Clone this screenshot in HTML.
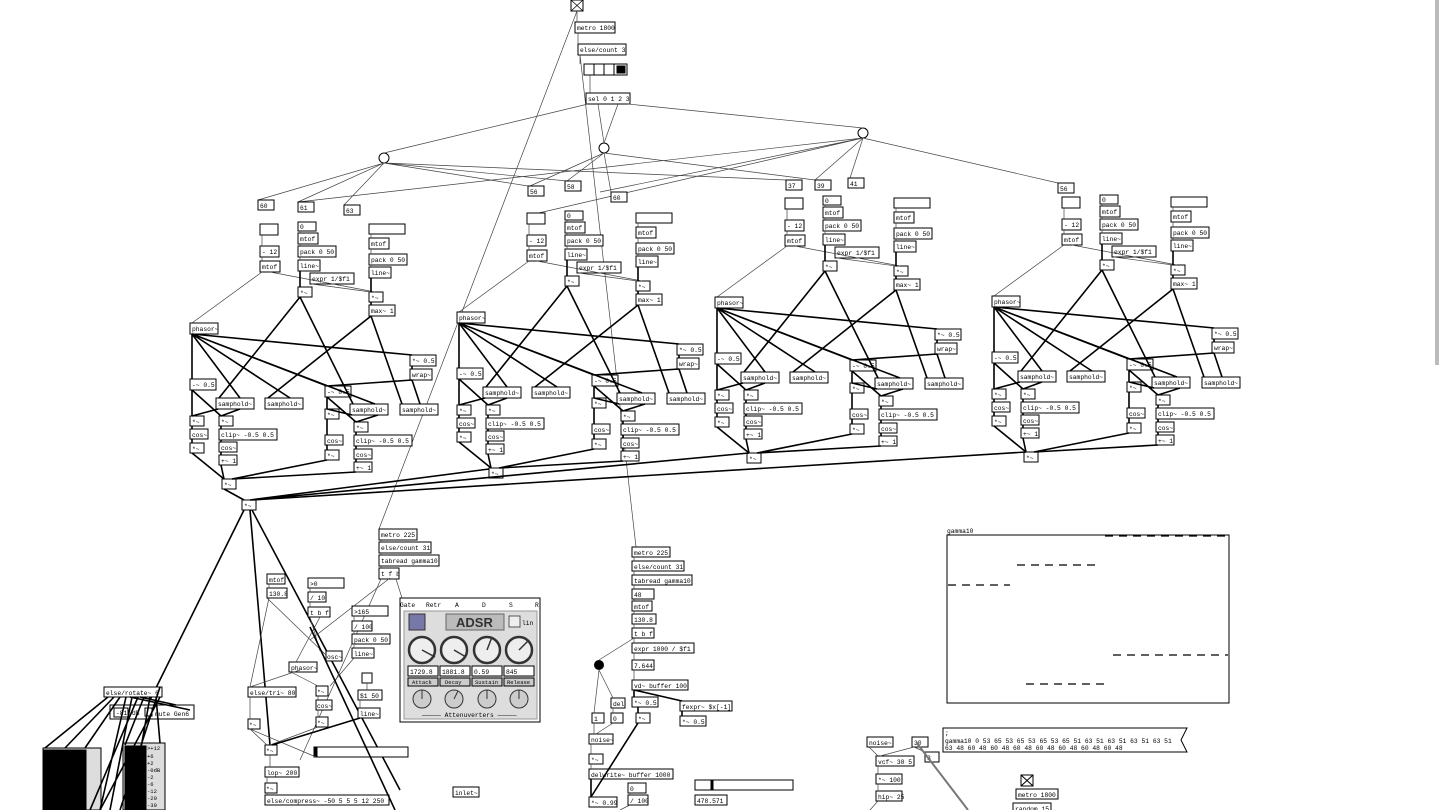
<!DOCTYPE html>
<html><head><meta charset="utf-8">
<style>
html,body{margin:0;padding:0;background:#fff;width:1440px;height:810px;overflow:hidden}
svg{display:block}
rect{fill:#fff;stroke:#000;stroke-width:1}
text{font-family:"Liberation Mono",monospace;font-size:6.3px;fill:#000}
.t{stroke:#444;stroke-width:0.7;fill:none}
.k{stroke:#000;stroke-width:1.6;fill:none}
.s{font-family:"Liberation Sans",sans-serif}
</style></head><body>
<svg width="1440" height="810" viewBox="0 0 1440 810" xmlns="http://www.w3.org/2000/svg">
<defs>
<g id="v">
<rect x="260" y="224" width="18" height="11"/>
<rect x="260" y="246" width="19" height="11"/><text x="262" y="254">- 12</text>
<rect x="260" y="261" width="20" height="11"/><text x="262" y="269">mtof</text>
<rect x="298" y="222" width="18" height="9"/><text x="300" y="229">0</text>
<rect x="298" y="233" width="20" height="11"/><text x="300" y="241">mtof</text>
<rect x="298" y="246" width="38" height="11"/><text x="300" y="254">pack 0 50</text>
<rect x="298" y="260" width="22" height="11"/><text x="300" y="268">line~</text>
<rect x="369" y="224" width="36" height="10"/>
<rect x="369" y="238" width="20" height="11"/><text x="371" y="246">mtof</text>
<rect x="369" y="254" width="38" height="11"/><text x="371" y="262">pack 0 50</text>
<rect x="369" y="267" width="22" height="11"/><text x="371" y="275">line~</text>
<rect x="310" y="273" width="44" height="11"/><text x="312" y="281">expr 1/$f1</text>
<rect x="298" y="287" width="14" height="10"/><text x="300" y="295">*~</text>
<rect x="369" y="292" width="14" height="10"/><text x="371" y="300">*~</text>
<rect x="369" y="305" width="26" height="11"/><text x="371" y="313">max~ 1</text>
<path class="t" d="M262 235V246M262 257V261M262 272L192 323M270 272L375 292M300 231V233M300 244V246M300 257V260M371 234V238M371 249V254M371 265V267M312 284L371 292"/>
<path class="k" d="M300 271V287M371 278V292M371 302V305"/>
<rect x="190" y="323" width="28" height="11"/><text x="192" y="331">phasor~</text>
<rect x="410" y="355" width="26" height="11"/><text x="412" y="363">*~ 0.5</text>
<rect x="410" y="369" width="22" height="11"/><text x="412" y="377">wrap~</text>
<rect x="190" y="379" width="26" height="11"/><text x="192" y="387">-~ 0.5</text>
<rect x="325" y="386" width="26" height="11"/><text x="327" y="394">-~ 0.5</text>
<rect x="216" y="398" width="38" height="11"/><text x="218" y="406">samphold~</text>
<rect x="265" y="398" width="38" height="11"/><text x="267" y="406">samphold~</text>
<rect x="350" y="404" width="38" height="11"/><text x="352" y="412">samphold~</text>
<rect x="400" y="404" width="38" height="11"/><text x="402" y="412">samphold~</text>
<rect x="190" y="416" width="14" height="10"/><text x="192" y="424">*~</text>
<rect x="219" y="416" width="14" height="10"/><text x="221" y="424">*~</text>
<rect x="190" y="429" width="18" height="10"/><text x="192" y="437">cos~</text>
<rect x="219" y="429" width="58" height="11"/><text x="221" y="437">clip~ -0.5 0.5</text>
<rect x="219" y="442" width="18" height="10"/><text x="221" y="450">cos~</text>
<rect x="190" y="443" width="14" height="10"/><text x="192" y="451">*~</text>
<rect x="219" y="455" width="18" height="10"/><text x="221" y="463">+~ 1</text>
<rect x="325" y="409" width="14" height="10"/><text x="327" y="417">*~</text>
<rect x="354" y="422" width="14" height="10"/><text x="356" y="430">*~</text>
<rect x="325" y="435" width="18" height="10"/><text x="327" y="443">cos~</text>
<rect x="354" y="435" width="58" height="11"/><text x="356" y="443">clip~ -0.5 0.5</text>
<rect x="354" y="449" width="18" height="10"/><text x="356" y="457">cos~</text>
<rect x="325" y="450" width="14" height="10"/><text x="327" y="458">*~</text>
<rect x="354" y="462" width="18" height="10"/><text x="356" y="470">+~ 1</text>
<rect x="222" y="479" width="14" height="10"/><text x="224" y="487">*~</text>
<path class="k" d="M300 297L219 398M300 297L353 404M371 316L268 398M371 316L402 404M192 334L412 355M192 334V379M192 334L240 398M192 334L290 398M192 334L327 386M192 334L375 404M412 366V369M412 380L327 386M412 380L420 404M192 390V416M192 390L221 416M218 409L192 416M240 409L221 416M192 426V429M192 439V443M221 426V429M221 440V442M221 452V455M327 397V409M327 397L356 422M352 415L327 409M378 415L356 422M327 419V435M327 445V450M356 432V435M356 446V449M356 459V462M192 453L224 479M221 465L224 479M327 460L232 479M356 472L232 479"/>
</g>
</defs>

<rect x="1435" y="0" width="4" height="365" style="fill:#bbb;stroke:none"/>

<rect x="571" y="0" width="12" height="11"/><path class="t" d="M571 0L583 11M583 0L571 11" style="stroke:#000"/>
<rect x="575" y="22" width="40" height="11"/><text x="577" y="30">metro 1800</text>
<rect x="578" y="44" width="48" height="11"/><text x="580" y="52">else/count 3</text>
<rect x="584" y="64" width="10" height="11"/><rect x="594" y="64" width="10" height="11"/><rect x="604" y="64" width="10" height="11"/><rect x="614" y="64" width="13" height="11"/><rect x="617" y="66" width="8" height="7" style="fill:#000"/>
<rect x="586" y="93" width="44" height="11"/><text x="588" y="101">sel 0 1 2 3</text>
<circle cx="384" cy="158" r="5" style="fill:#fff;stroke:#000"/>
<circle cx="604" cy="148" r="5" style="fill:#fff;stroke:#000"/>
<circle cx="863" cy="133" r="5" style="fill:#fff;stroke:#000"/>
<path class="t" d="M577 11V22M578 33V44M580 55V64M590 75V93M588 104L384 153M598 104L604 143M618 104L604 143M628 104L863 128M577 11L379 529M580 55L636 547
M384 163L258 200M384 163L298 202M384 163L344 205M384 163L528 186M384 163L567 181M384 163L786 180
M604 153L530 186M604 153L567 181M604 153L611 192M604 153L815 180
M863 138L600 192M863 138L850 178M863 138L1058 183M863 138L298 202M863 138L815 180M863 138L530 215"/>

<rect x="258" y="200" width="16" height="10"/><text x="260" y="208">60</text>
<rect x="298" y="202" width="16" height="10"/><text x="300" y="210">61</text>
<rect x="344" y="205" width="16" height="10"/><text x="346" y="213">63</text>
<text x="262" y="232">63</text><text x="371" y="232">&gt;70</text>
<rect x="528" y="186" width="16" height="10"/><text x="530" y="194">56</text>
<rect x="565" y="181" width="16" height="10"/><text x="567" y="189">58</text>
<rect x="611" y="192" width="16" height="10"/><text x="613" y="200">60</text>
<text x="529" y="220">60</text><text x="638" y="223">&gt;66</text>
<rect x="786" y="180" width="16" height="10"/><text x="788" y="188">37</text>
<rect x="815" y="180" width="16" height="10"/><text x="817" y="188">39</text>
<rect x="848" y="178" width="16" height="10"/><text x="850" y="186">41</text>
<text x="787" y="206">41</text><text x="896" y="206">&gt;69</text>
<rect x="1058" y="183" width="16" height="10"/><text x="1060" y="191">56</text>
<text x="1064" y="205">56</text><text x="1173" y="205">&gt;69</text>
<use href="#v"/>
<use href="#v" transform="translate(267,-11)"/>
<use href="#v" transform="translate(525,-26)"/>
<use href="#v" transform="translate(802,-27)"/>

<rect x="242" y="500" width="14" height="10"/><text x="244" y="508">*~</text>
<path class="k" d="M224 489L244 500M489 469L250 500M749 453L250 500M1026 452L252 500M244 510L150 700M250 510L270 745M252 510L400 790"/>

<rect x="379" y="529" width="38" height="11"/><text x="381" y="537">metro 225</text>
<rect x="379" y="542" width="52" height="11"/><text x="381" y="550">else/count 31</text>
<rect x="379" y="555" width="60" height="11"/><text x="381" y="563">tabread gamma10</text>
<rect x="379" y="568" width="20" height="11"/><text x="381" y="576">t f b</text>
<path class="t" d="M381 540V542M381 553V555M381 566V568M381 579L300 760M396 579L402 598"/>

<rect x="400" y="598" width="140" height="124" style="fill:#fff"/>
<text x="400" y="607">Gate</text><text x="426" y="607">Retr</text><text x="455" y="607">A</text><text x="482" y="607">D</text><text x="509" y="607">S</text><text x="535" y="607">R</text>
<rect x="404" y="611" width="133" height="108" style="fill:#ddd;stroke:#999"/>
<rect x="409" y="614" width="16" height="16" style="fill:#7777aa;stroke:#333"/>
<rect x="446" y="614" width="58" height="16" style="fill:#bbb;stroke:#666"/>
<text x="456" y="627" class="s" style="font-size:13px;font-weight:bold;fill:#333">ADSR</text>
<rect x="509" y="616" width="11" height="11" style="fill:#eee;stroke:#555"/><text x="522" y="625">lin</text>
<g style="fill:#eee;stroke:#333;stroke-width:2.5">
<circle cx="422" cy="650" r="13"/><circle cx="454" cy="650" r="13"/><circle cx="487" cy="650" r="13"/><circle cx="519" cy="650" r="13"/></g>
<path style="stroke:#333;stroke-width:1.5" d="M422 650L435 657M454 650L466 657M487 650L492 637M519 650L528 641"/>
<rect x="408" y="666" width="30" height="10"/><text x="410" y="674">1729.8</text>
<rect x="440" y="666" width="30" height="10"/><text x="442" y="674">1881.8</text>
<rect x="472" y="666" width="30" height="10"/><text x="474" y="674">0.59</text>
<rect x="504" y="666" width="30" height="10"/><text x="506" y="674">845</text>
<rect x="408" y="678" width="30" height="8" style="fill:#ccc"/><text x="412" y="684" style="font-size:5.5px">Attack</text>
<rect x="440" y="678" width="30" height="8" style="fill:#ccc"/><text x="445" y="684" style="font-size:5.5px">Decay</text>
<rect x="472" y="678" width="30" height="8" style="fill:#ccc"/><text x="475" y="684" style="font-size:5.5px">Sustain</text>
<rect x="504" y="678" width="30" height="8" style="fill:#ccc"/><text x="507" y="684" style="font-size:5.5px">Release</text>
<g style="fill:#ccc;stroke:#333;stroke-width:1"><circle cx="422" cy="699" r="9"/><circle cx="454" cy="699" r="9"/><circle cx="487" cy="699" r="9"/><circle cx="519" cy="699" r="9"/></g>
<path style="stroke:#333" d="M422 699V690M454 699L458 691M487 699V690M519 699V690"/>
<text x="422" y="717">————— Attenuverters —————</text>

<rect x="267" y="574" width="18" height="10"/><text x="269" y="582">mtof</text>
<rect x="267" y="588" width="20" height="10"/><text x="269" y="596">130.8</text>
<rect x="308" y="578" width="36" height="10"/><text x="310" y="586">&gt;0</text>
<rect x="308" y="592" width="18" height="10"/><text x="310" y="600">/ 10</text>
<rect x="308" y="607" width="22" height="10"/><text x="310" y="615">t b f</text>
<rect x="352" y="606" width="36" height="10"/><text x="354" y="614">&gt;165</text>
<rect x="352" y="621" width="20" height="10"/><text x="354" y="629">/ 100</text>
<rect x="352" y="634" width="38" height="10"/><text x="354" y="642">pack 0 50</text>
<rect x="352" y="648" width="22" height="10"/><text x="354" y="656">line~</text>
<rect x="326" y="651" width="16" height="10"/><text x="327" y="659">osc~</text>
<rect x="289" y="662" width="28" height="10"/><text x="291" y="670">phasor~</text>
<rect x="362" y="673" width="10" height="10"/>
<rect x="358" y="690" width="24" height="10"/><text x="360" y="698">$1 50</text>
<rect x="358" y="708" width="22" height="10"/><text x="360" y="716">line~</text>
<rect x="248" y="687" width="48" height="10"/><text x="250" y="695">else/tri~ 80</text>
<rect x="316" y="686" width="12" height="10"/><text x="317" y="694">*~</text>
<rect x="316" y="700" width="16" height="10"/><text x="317" y="708">cos~</text>
<rect x="248" y="719" width="12" height="10"/><text x="249" y="727">*~</text>
<rect x="316" y="717" width="12" height="10"/><text x="317" y="725">*~</text>
<rect x="265" y="745" width="12" height="10"/><text x="266" y="753">*~</text>
<rect x="314" y="747" width="94" height="10"/><rect x="314" y="747" width="3" height="10" style="fill:#000"/>
<rect x="265" y="767" width="34" height="10"/><text x="267" y="775">lop~ 200</text>
<rect x="265" y="783" width="12" height="10"/><text x="266" y="791">*~</text>
<rect x="265" y="795" width="124" height="10"/><text x="267" y="803">else/compress~ -50 5 5 5 12 250</text>
<rect x="453" y="787" width="26" height="10"/><text x="455" y="795">inlet~</text>
<path class="t" d="M269 584V588M269 598L250 687M310 588V592M310 602V607M310 617L320 651M320 617L296 662M354 616V621M354 631V634M354 645V648M354 658L330 686M267 598L326 655M367 683V690M360 700V708M250 697V719M291 672L318 686M318 696V700M318 710V717M250 729L267 745M250 729L316 757M318 727L270 745M270 755V767M267 777V783M267 793V795M390 578L310 640M300 670L250 687"/>
<path class="k" d="M360 718L272 745M310 627L395 810"/>

<rect x="104" y="687" width="58" height="10"/><text x="106" y="695">else/rotate~ 6</text>
<rect x="110" y="705" width="84" height="14"/><rect x="114" y="708" width="14" height="9"/><text x="116" y="715">-81</text><text x="132" y="715">dB</text><rect x="145" y="708" width="7" height="8"/><text x="155" y="716">mute Gen6</text>
<rect x="43" y="748" width="58" height="62" style="fill:#ddd"/><rect x="43" y="750" width="43" height="60" style="fill:#000"/>
<rect x="123" y="743" width="42" height="67" style="fill:#ddd"/><rect x="125" y="746" width="21" height="64" style="fill:#000"/>
<text x="147" y="750" style="font-size:5.5px">&gt;+12</text><text x="147" y="758" style="font-size:5.5px">+6</text><text x="147" y="765" style="font-size:5.5px">+2</text><text x="147" y="772" style="font-size:5.5px">-0dB</text><text x="147" y="779" style="font-size:5.5px">-2</text><text x="147" y="786" style="font-size:5.5px">-6</text><text x="147" y="793" style="font-size:5.5px">-12</text><text x="147" y="800" style="font-size:5.5px">-20</text><text x="147" y="807" style="font-size:5.5px">-30</text>
<path class="k" d="M108 697L45 748M114 697L65 748M120 697L85 748M126 697L100 810M132 697L110 810M138 697L90 810M144 697L125 745M150 697L130 810M156 697L160 743M160 697L100 810M160 687L120 810M130 697L190 710M140 697L176 705"/>

<rect x="632" y="547" width="38" height="10"/><text x="634" y="555">metro 225</text>
<rect x="632" y="561" width="52" height="10"/><text x="634" y="569">else/count 31</text>
<rect x="632" y="575" width="60" height="10"/><text x="634" y="583">tabread gamma10</text>
<rect x="632" y="589" width="22" height="10"/><text x="634" y="597">48</text>
<rect x="632" y="601" width="20" height="10"/><text x="634" y="609">mtof</text>
<rect x="632" y="614" width="24" height="10"/><text x="634" y="622">130.8</text>
<rect x="632" y="628" width="22" height="10"/><text x="634" y="636">t b f</text>
<rect x="632" y="643" width="62" height="10"/><text x="634" y="651">expr 1000 / $f1</text>
<rect x="632" y="660" width="22" height="10"/><text x="634" y="668">7.644</text>
<rect x="632" y="680" width="56" height="10"/><text x="634" y="688">vd~ buffer 100</text>
<rect x="632" y="697" width="26" height="10"/><text x="634" y="705">*~ 0.5</text>
<rect x="680" y="701" width="52" height="10"/><text x="682" y="709">fexpr~ $x[-1]</text>
<rect x="680" y="716" width="26" height="10"/><text x="682" y="724">*~ 0.5</text>
<rect x="636" y="713" width="14" height="10"/><text x="638" y="721">*~</text>
<circle cx="599" cy="665" r="5" style="fill:#000"/>
<rect x="611" y="698" width="14" height="10"/><text x="613" y="706">del</text>
<rect x="592" y="713" width="12" height="10"/><text x="594" y="721">1</text>
<rect x="611" y="713" width="12" height="10"/><text x="613" y="721">0</text>
<rect x="589" y="734" width="24" height="10"/><text x="591" y="742">noise~</text>
<rect x="589" y="754" width="14" height="10"/><text x="591" y="762">*~</text>
<rect x="589" y="769" width="84" height="10"/><text x="591" y="777">delwrite~ buffer 1000</text>
<rect x="589" y="797" width="28" height="10"/><text x="591" y="805">*~ 0.99</text>
<rect x="628" y="783" width="18" height="10"/><text x="630" y="791">0</text>
<rect x="628" y="795" width="20" height="10"/><text x="630" y="803">/ 100</text>
<rect x="695" y="780" width="98" height="10"/><rect x="711" y="780" width="2" height="10" style="fill:#000"/>
<rect x="695" y="795" width="32" height="10"/><text x="697" y="803">478.571</text>
<path class="t" d="M634 557V561M634 571V575M634 585V589M634 599V601M634 611V614M634 624V628M634 638V643M634 653V660M634 638L599 660M599 670L594 713M599 670L613 698M613 708V713M594 723V734M613 723L596 734M591 744V754M591 764V769M634 670V680M630 793V795M630 805L620 810"/>
<path class="k" d="M634 690V697M634 690L682 701M682 711V716M638 707V713M638 723L591 797M591 779V797"/>

<text x="947" y="533">gamma10</text>
<rect x="947" y="535" width="282" height="168"/>
<path style="stroke:#000;stroke-width:1.2;stroke-dasharray:8,6" d="M1105 536H1228M1017 565H1100M948 585H1010M1113 655H1228M1026 684H1108"/>

<rect x="867" y="737" width="26" height="10"/><text x="869" y="745">noise~</text>
<rect x="912" y="737" width="16" height="10"/><text x="914" y="745">30</text>
<rect x="925" y="752" width="14" height="10"/><text x="927" y="760">3</text>
<rect x="876" y="756" width="38" height="10"/><text x="878" y="764">vcf~ 30 5</text>
<rect x="876" y="774" width="26" height="10"/><text x="878" y="782">*~ 100</text>
<rect x="876" y="791" width="26" height="10"/><text x="878" y="799">hip~ 25</text>
<path style="fill:#fff;stroke:#000" d="M943 728H1187L1181 740L1187 752H943Z"/>
<text x="945" y="735">;</text>
<text x="945" y="743">gamma10 0 53 65 53 65 53 65 53 65 51 63 51 63 51 63 51 63 51</text>
<text x="945" y="750">63 48 60 48 60 48 60 48 60 48 60 48 60 48 60 48</text>
<rect x="1021" y="775" width="12" height="11"/><path style="stroke:#000" d="M1021 775L1033 786M1033 775L1021 786"/>
<rect x="1016" y="789" width="42" height="10"/><text x="1018" y="797">metro 1800</text>
<rect x="1013" y="803" width="38" height="10"/><text x="1015" y="811">random 15</text>
<path class="t" d="M869 747L878 756M914 747L880 756M914 747L925 752M878 766V774M878 784V791M878 801L870 810"/>
<path style="stroke:#777;stroke-width:2" d="M916 742L968 810"/>
</svg>
</body></html>
